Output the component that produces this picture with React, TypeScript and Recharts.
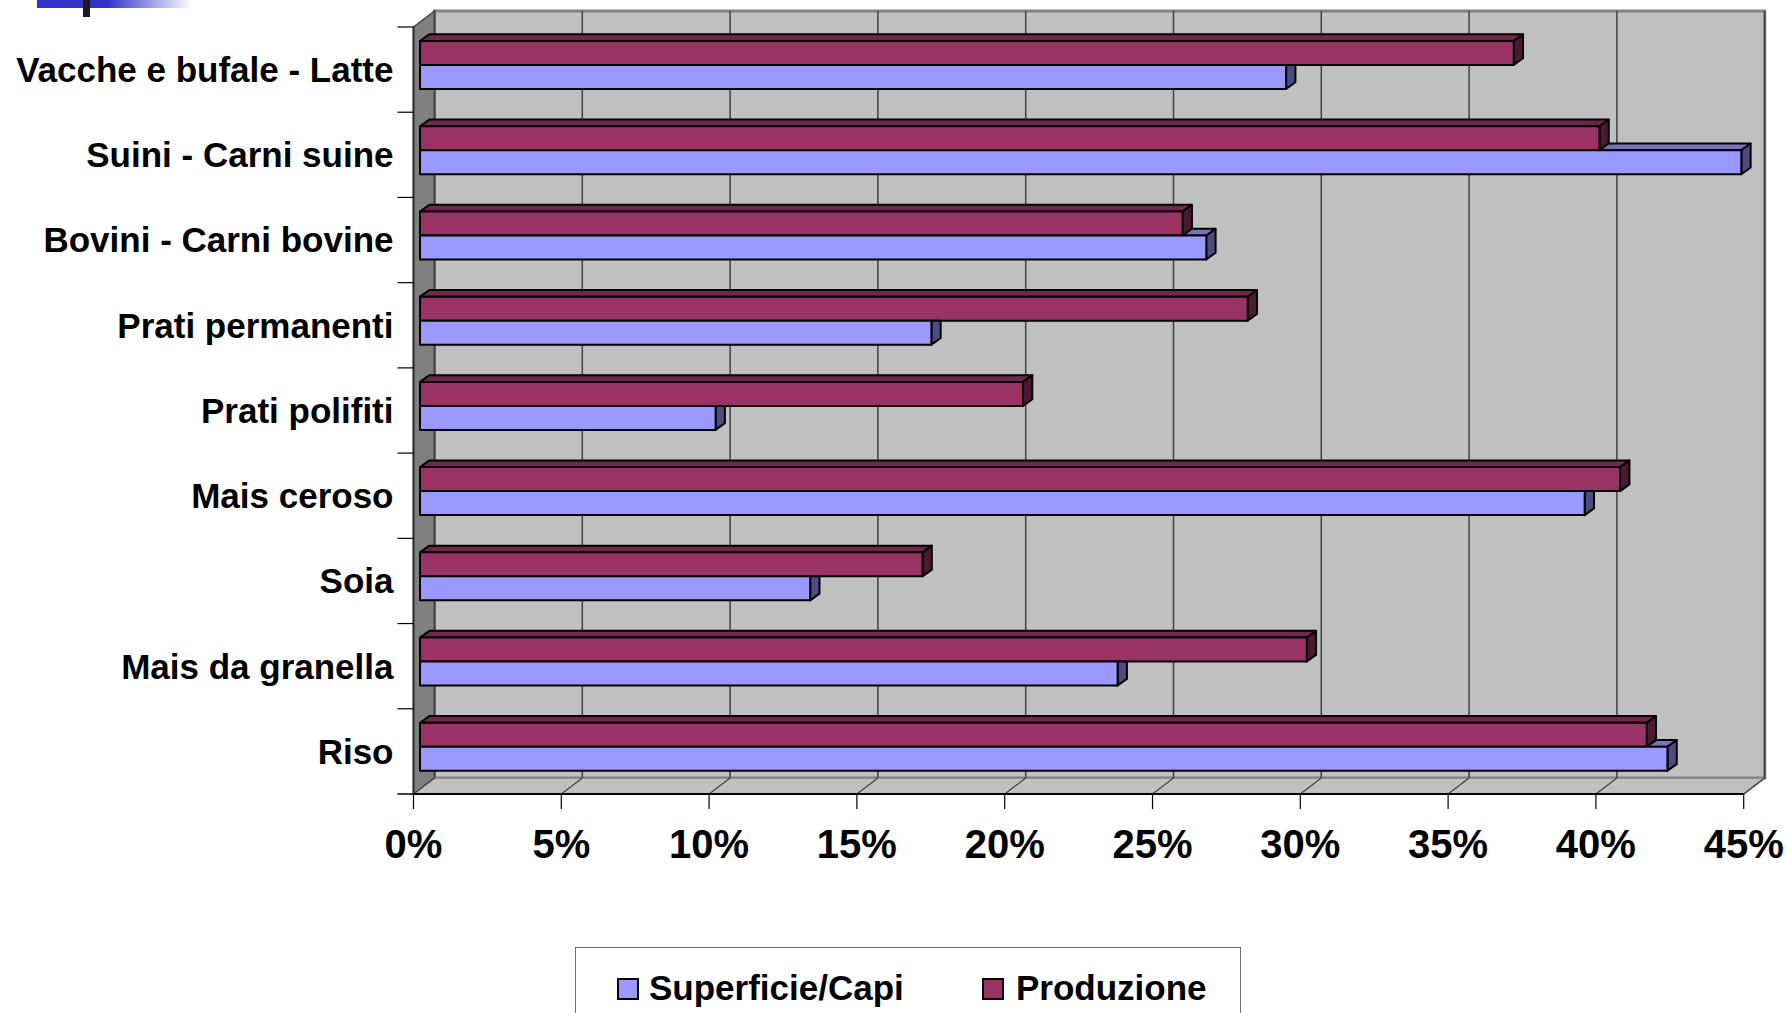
import React from 'react';
import { BarChart, Bar, XAxis, YAxis, ReferenceArea, Legend } from 'recharts';

const categories = [
  'Vacche e bufale - Latte',
  'Suini - Carni suine',
  'Bovini - Carni bovine',
  'Prati permanenti',
  'Prati polifiti',
  'Mais ceroso',
  'Soia',
  'Mais da granella',
  'Riso',
];
const superficieCapi = [29.3, 44.7, 26.6, 17.3, 10.0, 39.4, 13.2, 23.6, 42.2];
const produzione = [37.0, 39.9, 25.8, 28.0, 20.4, 40.6, 17.0, 30.0, 41.5];
const xTicks = [0, 5, 10, 15, 20, 25, 30, 35, 40, 45];
const seriesNames = ['Superficie/Capi', 'Produzione'];
const seriesColors = ['#9999FF', '#993366'];
const seriesTopColors = ['#7373BF', '#73264D'];
const seriesSideColors = ['#4C4C80', '#4C1933'];

const data = categories.map((name, i) => ({
  name,
  sup: superficieCapi[i],
  prod: produzione[i],
}));

const FONT = '"Liberation Sans", Arial, Helvetica, sans-serif';
const W = 1787;
const H = 1013;
const WALL_DX = 21;
const WALL_DY = -16;
const FX = 6.5;
const FY = -5;
const BX = 15.8;
const BY = -11.7;
const Y_TICK = 16;
const Y_MARGIN = 4;

const pts = (arr: number[][]) => arr.map((p) => p.join(',')).join(' ');

const Walls = (props: any) => {
  const { x, y, width, height } = props;
  const maxV = xTicks[xTicks.length - 1];
  const bottom = y + height;
  return (
    <g>
      <rect x={x + WALL_DX} y={y + WALL_DY} width={width} height={height} fill="#C0C0C0" stroke="#808080" strokeWidth={3} />
      <polygon
        points={pts([[x, y], [x + WALL_DX, y + WALL_DY], [x + WALL_DX, bottom + WALL_DY], [x, bottom]])}
        fill="#808080"
        stroke="#404040"
        strokeWidth={1.5}
      />
      <polygon
        points={pts([[x, bottom], [x + WALL_DX, bottom + WALL_DY], [x + width + WALL_DX, bottom + WALL_DY], [x + width, bottom]])}
        fill="#C0C0C0"
        stroke="#808080"
        strokeWidth={1.5}
      />
      {xTicks.map((t) => {
        const gx = x + (t / maxV) * width;
        return (
          <g key={t}>
            <line x1={gx + WALL_DX} y1={y + WALL_DY} x2={gx + WALL_DX} y2={bottom + WALL_DY} stroke="#404040" strokeWidth={1.5} />
            <line x1={gx + WALL_DX} y1={bottom + WALL_DY} x2={gx} y2={bottom} stroke="#404040" strokeWidth={1.2} />
          </g>
        );
      })}
    </g>
  );
};

const ProdShape = (props: any) => {
  const { x, y, width, height } = props;
  if (!width) return null;
  const fx = x + FX;
  const fy = y + FY;
  const ex = fx + width;
  return (
    <g stroke="#000" strokeWidth={2} strokeLinejoin="round">
      <polygon points={pts([[fx, fy], [x + BX, y + BY], [x + width + BX, y + BY], [ex, fy]])} fill={seriesTopColors[1]} />
      <polygon points={pts([[ex, fy], [x + width + BX, y + BY], [x + width + BX, y + BY + height], [ex, fy + height]])} fill={seriesSideColors[1]} />
      <rect x={fx} y={fy} width={width} height={height} fill={seriesColors[1]} />
    </g>
  );
};

const SupShape = (props: any) => {
  const { x, y, width, height, payload } = props;
  if (!width) return null;
  const fx = x + FX;
  const fy = y + FY;
  const ex = fx + width;
  const sup = payload ? payload.sup : 1;
  const prod = payload ? payload.prod : 0;
  const pxPer = width / sup;
  const prodEnd = x + prod * pxPer;
  const longer = sup > prod;
  return (
    <g stroke="#000" strokeWidth={2} strokeLinejoin="round">
      {longer && (
        <polygon
          points={pts([[prodEnd + FX, fy], [prodEnd + BX, y + BY], [x + width + BX, y + BY], [ex, fy]])}
          fill={seriesTopColors[0]}
        />
      )}
      {longer ? (
        <polygon points={pts([[ex, fy], [x + width + BX, y + BY], [x + width + BX, y + BY + height], [ex, fy + height]])} fill={seriesSideColors[0]} />
      ) : (
        <polygon points={pts([[ex, fy], [x + width + BX, fy], [x + width + BX, y + BY + height], [ex, fy + height]])} fill={seriesSideColors[0]} />
      )}
      <rect x={fx} y={fy} width={width} height={height} fill={seriesColors[0]} />
    </g>
  );
};

const YTick = (props: any) => {
  const { x, y, payload, index, visibleTicksCount } = props;
  const half = payload && typeof payload.offset === 'number' && payload.offset > 0 ? payload.offset : 767 / categories.length / 2;
  const axisX = x + Y_TICK + Y_MARGIN;
  const isLast = index === (visibleTicksCount ?? categories.length) - 1;
  return (
    <g>
      <line x1={axisX - Y_TICK} x2={axisX} y1={y - half} y2={y - half} stroke="#000" strokeWidth={1.2} />
      {isLast && <line x1={axisX - Y_TICK} x2={axisX} y1={y + half} y2={y + half} stroke="#000" strokeWidth={1.5} />}
      <text x={x} y={y} dy="0.355em" textAnchor="end" fontFamily={FONT} fontWeight="bold" fontSize={35} fill="#000">
        {payload.value}
      </text>
    </g>
  );
};

const LegendBox = () => {
  const items = [
    { name: seriesNames[0], color: seriesColors[0], sq: 41, tx: 73 },
    { name: seriesNames[1], color: seriesColors[1], sq: 406, tx: 440 },
  ];
  return (
    <div
      style={{
        position: 'relative',
        width: 666,
        height: 100,
        border: '1.5px solid #707070',
        background: '#fff',
        boxSizing: 'border-box',
        fontFamily: FONT,
      }}
    >
      {items.map((it) => (
        <React.Fragment key={it.name}>
          <div
            style={{
              position: 'absolute',
              left: it.sq,
              top: 30,
              width: 22,
              height: 22,
              background: it.color,
              border: '2px solid #000',
              boxSizing: 'border-box',
            }}
          />
          <div
            style={{
              position: 'absolute',
              left: it.tx,
              top: 20,
              fontSize: 35,
              fontWeight: 'bold',
              lineHeight: '40px',
              color: '#000',
              whiteSpace: 'nowrap',
            }}
          >
            {it.name}
          </div>
        </React.Fragment>
      ))}
    </div>
  );
};

export default function App() {
  return (
    <div style={{ position: 'absolute', left: 0, top: 0, width: W, height: H, overflow: 'hidden', background: '#fff' }}>
      <div
        style={{
          position: 'absolute',
          left: 37,
          top: 0,
          width: 155,
          height: 7.5,
          background: 'linear-gradient(to right, #3333CC 0%, #3333CC 45%, #ffffff 100%)',
        }}
      />
      <div style={{ position: 'absolute', left: 83, top: 0, width: 7, height: 17, background: '#1a1a1a' }} />
      <div style={{ position: 'absolute', left: 0, top: 0 }}>
        <BarChart
          width={W}
          height={H}
          data={data}
          layout="vertical"
          margin={{ top: 27, right: 43.3, bottom: 0, left: 13.5 }}
          barSize={24}
          barGap={0}
        >
          <XAxis
            type="number"
            domain={[0, 45]}
            ticks={xTicks}
            interval={0}
            tickFormatter={(v: number) => `${v}%`}
            height={219}
            tickSize={15}
            tickMargin={21}
            axisLine={{ stroke: '#000', strokeWidth: 2 }}
            tickLine={{ stroke: '#000', strokeWidth: 1.2 }}
            tick={{ fontSize: 40, fontWeight: 'bold', fill: '#000', fontFamily: FONT }}
          />
          <YAxis
            type="category"
            dataKey="name"
            width={400}
            interval={0}
            tickSize={Y_TICK}
            tickMargin={Y_MARGIN}
            tickLine={false}
            axisLine={{ stroke: '#303030', strokeWidth: 2 }}
            tick={<YTick />}
          />
          <ReferenceArea x1={0} x2={45} ifOverflow="visible" shape={<Walls />} zIndex={-50} />
          <Bar dataKey="prod" name={seriesNames[1]} fill={seriesColors[1]} isAnimationActive={false} shape={<ProdShape />} />
          <Bar dataKey="sup" name={seriesNames[0]} fill={seriesColors[0]} isAnimationActive={false} shape={<SupShape />} />
          <Legend
            layout="horizontal"
            verticalAlign="middle"
            align="center"
            content={<LegendBox />}
            wrapperStyle={{ left: 575, top: 947, width: 666, height: 100 }}
          />
        </BarChart>
      </div>
    </div>
  );
}
